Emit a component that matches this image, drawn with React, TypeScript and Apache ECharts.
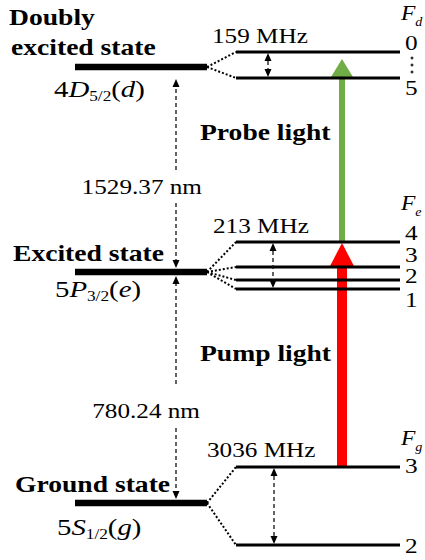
import React, { useEffect, useRef } from "react";
import * as echarts from "echarts";

const W = 425;
const H = 560;
const FAMILY = "Liberation Serif";

// ---- data ----
const mainLevelY = [67, 272, 503]; // d, e, g
const mainLevelX = [75, 207];
const hfX = [236, 400];
const hfDF = ["0", "5"];
const hfDY = [52, 78];
const hfDLabelY = [43, 88];
const hfEF = ["4", "3", "2", "1"];
const hfEY = [242, 267, 280, 289];
const hfELabelY = [233, 255, 276, 300];
const hfGF = ["3", "2"];
const hfGY = [467, 545];
const hfGLabelY = [466, 546];

const stateTitles = ["Doubly", "excited state", "Excited state", "Ground state"];
const lightLabels = ["Probe light", "Pump light"];
const splitLabels = ["159 MHz", "213 MHz", "3036 MHz"];
const wavelengthLabels = ["1529.37 nm", "780.24 nm"];
const termLabels = [
  ["4", "D", "5/2", "d"],
  ["5", "P", "3/2", "e"],
  ["5", "S", "1/2", "g"],
];
const fLabels = ["d", "e", "g"];

// [x, yTail, yTip]
const beamArrows = [
  [342, 242, 59], // probe
  [342, 467, 243], // pump
];
const beamStyles = [
  { color: "#70AD47", shaft: 6, headW: 22, headL: 18 },
  { color: "#FF0000", shaft: 10, headW: 26, headL: 25 },
];

// single-headed dashed arrows [x, yStart, yTip]
const wlArrows = [
  [176, 170, 79],
  [176, 203, 268],
  [176, 384, 276],
  [176, 428, 499],
];
// double-headed arrows [x, y1, y2]
const splitArrows = [
  [268, 53, 77],
  [273, 243, 288],
  [274, 468, 544],
];
const dots = [
  [412, 58],
  [412, 65],
  [412, 72],
];

// ---- text helpers ----
const canvas = document.createElement("canvas");
const ctx = canvas.getContext("2d")!;
function tw(t: string, size: number, weight: string, style: string) {
  ctx.font = `${style} ${weight} ${size}px ${FAMILY}`;
  return ctx.measureText(t).width;
}

type Seg = { t: string; it?: boolean; sub?: boolean };
type TextItem = {
  x: number;
  y: number;
  segs: Seg[];
  size: number;
  bold?: boolean;
  align?: "left" | "right";
  scaleX: number;
  subDy: number;
};

const textItems: TextItem[] = [];
const boldPos = [
  [9, 17],
  [11, 47],
  [13, 253],
  [15, 484],
];
stateTitles.forEach((t, i) =>
  textItems.push({ x: boldPos[i][0], y: boldPos[i][1], segs: [{ t }], size: 23, bold: true, scaleX: 1.2, subDy: 0 })
);
const lightPos = [
  [200, 132],
  [200, 353],
];
lightLabels.forEach((t, i) =>
  textItems.push({ x: lightPos[i][0], y: lightPos[i][1], segs: [{ t }], size: 23, bold: true, scaleX: 1.2, subDy: 0 })
);
const splitPos = [
  [212, 36],
  [213, 226],
  [207, 450],
];
splitLabels.forEach((t, i) =>
  textItems.push({ x: splitPos[i][0], y: splitPos[i][1], segs: [{ t }], size: 21, scaleX: 1.2, subDy: 0 })
);
const wlPos = [
  [202, 187],
  [200, 411],
];
wavelengthLabels.forEach((t, i) =>
  textItems.push({ x: wlPos[i][0], y: wlPos[i][1], segs: [{ t }], size: 21, align: "right", scaleX: 1.2, subDy: 0 })
);
const termPos = [
  [54, 89],
  [55, 289],
  [57, 527],
];
termLabels.forEach((p, i) =>
  textItems.push({
    x: termPos[i][0],
    y: termPos[i][1],
    segs: [{ t: p[0] }, { t: p[1], it: true }, { t: p[2], sub: true }, { t: "(" }, { t: p[3], it: true }, { t: ")" }],
    size: 24,
    scaleX: 1.2,
    subDy: 0.3,
  })
);
const fPosY = [13, 203, 438];
fLabels.forEach((s, i) =>
  textItems.push({ x: 401, y: fPosY[i], segs: [{ t: "F", it: true }, { t: s, it: true, sub: true }], size: 21, scaleX: 1.12, subDy: 0.42 })
);
const pushNums = (labels: string[], ys: number[]) =>
  labels.forEach((t, i) => textItems.push({ x: 405, y: ys[i], segs: [{ t }], size: 22, scaleX: 1.15, subDy: 0 }));
pushNums(hfDF, hfDLabelY);
pushNums(hfEF, hfELabelY);
pushNums(hfGF, hfGLabelY);

// ---- segment builders ----
const mainSegs = mainLevelY.map((y) => [mainLevelX[0], y, mainLevelX[1], y]);
const hfSegs = [...hfDY, ...hfEY, ...hfGY].map((y) => [hfX[0], y, hfX[1], y]);
const fanSegs = [
  ...hfDY.map((y) => [mainLevelX[1], mainLevelY[0], hfX[0], y]),
  ...hfEY.map((y) => [mainLevelX[1], mainLevelY[1], hfX[0], y]),
  ...hfGY.map((y) => [mainLevelX[1], mainLevelY[2], hfX[0], y]),
];

function segSeries(data: number[][], style: any) {
  return {
    type: "custom",
    coordinateSystem: "cartesian2d",
    data,
    encode: { x: [0, 2], y: [1, 3] },
    silent: true,
    renderItem: (params: any, api: any) => {
      const p0 = api.coord([api.value(0), api.value(1)]);
      const p1 = api.coord([api.value(2), api.value(3)]);
      return {
        type: "line",
        shape: { x1: p0[0], y1: p0[1], x2: p1[0], y2: p1[1] },
        style: { fill: null, ...style },
      };
    },
  };
}

function head(tip: number[], dir: number, len: number, halfW: number) {
  return [
    [tip[0], tip[1]],
    [tip[0] - halfW, tip[1] - dir * len],
    [tip[0] + halfW, tip[1] - dir * len],
  ];
}

function dashedArrowSeries(data: number[][], both: boolean) {
  return {
    type: "custom",
    coordinateSystem: "cartesian2d",
    data,
    encode: { x: 0, y: [1, 2] },
    silent: true,
    renderItem: (params: any, api: any) => {
      const a = api.coord([api.value(0), api.value(1)]);
      const b = api.coord([api.value(0), api.value(2)]);
      const dir = b[1] > a[1] ? 1 : -1;
      const L = 8;
      const hw = 3.5;
      const children: any[] = [];
      const y1 = both ? a[1] + dir * L : a[1];
      const y2 = b[1] - dir * L;
      children.push({
        type: "line",
        shape: { x1: a[0], y1, x2: b[0], y2 },
        style: { stroke: "#111", lineWidth: 1.3, lineDash: [4, 3], fill: null },
      });
      children.push({ type: "polygon", shape: { points: head(b, dir, L, hw) }, style: { fill: "#000" } });
      if (both) children.push({ type: "polygon", shape: { points: head(a, -dir, L, hw) }, style: { fill: "#000" } });
      return { type: "group", children };
    },
  };
}

const App: React.FC = () => {
  const ref = useRef<HTMLDivElement>(null);
  useEffect(() => {
    document.body.style.margin = "0";
    const chart = echarts.init(ref.current!, undefined, { renderer: "svg" });
    chart.setOption({
      animation: false,
      backgroundColor: "#fff",
      textStyle: { fontFamily: FAMILY },
      grid: { left: 0, right: 0, top: 0, bottom: 0, outerBoundsMode: "none" },
      xAxis: { type: "value", min: 0, max: W, show: false },
      yAxis: { type: "value", min: 0, max: H, inverse: true, show: false },
      series: [
        segSeries(mainSegs, { stroke: "#000", lineWidth: 6.5 }),
        segSeries(fanSegs, { stroke: "#000", lineWidth: 2, lineDash: [2, 2] }),
        {
          type: "custom",
          coordinateSystem: "cartesian2d",
          data: beamArrows,
          encode: { x: 0, y: [1, 2] },
          silent: true,
          renderItem: (params: any, api: any) => {
            const s = beamStyles[params.dataIndex];
            const tail = api.coord([api.value(0), api.value(1)]);
            const tip = api.coord([api.value(0), api.value(2)]);
            const baseY = tip[1] + s.headL;
            return {
              type: "group",
              children: [
                {
                  type: "rect",
                  shape: { x: tail[0] - s.shaft / 2, y: baseY - 1, width: s.shaft, height: tail[1] - baseY + 1 },
                  style: { fill: s.color },
                },
                { type: "polygon", shape: { points: head(tip, -1, s.headL, s.headW / 2) }, style: { fill: s.color } },
              ],
            };
          },
        },
        segSeries(hfSegs, { stroke: "#000", lineWidth: 3 }),
        dashedArrowSeries(wlArrows, false),
        dashedArrowSeries(splitArrows, true),
        {
          type: "scatter",
          data: dots,
          symbol: "circle",
          symbolSize: 3,
          itemStyle: { color: "#000" },
          silent: true,
        },
        {
          type: "custom",
          coordinateSystem: "cartesian2d",
          data: textItems.map((t) => [t.x, t.y]),
          encode: { x: 0, y: 1 },
          silent: true,
          renderItem: (params: any, api: any) => {
            const item = textItems[params.dataIndex];
            const p = api.coord([api.value(0), api.value(1)]);
            const weight = item.bold ? "bold" : "normal";
            let cx = 0;
            const children: any[] = [];
            for (const s of item.segs) {
              const size = s.sub ? item.size * 0.6 : item.size;
              const fstyle = s.it ? "italic" : "normal";
              const w = tw(s.t, size, weight, fstyle);
              children.push({
                type: "text",
                x: cx,
                y: s.sub ? item.size * item.subDy : 0,
                style: {
                  text: s.t,
                  fill: "#000",
                  fontSize: size,
                  fontFamily: FAMILY,
                  fontWeight: weight,
                  fontStyle: fstyle,
                  align: "left",
                  verticalAlign: "middle",
                },
              });
              cx += w;
            }
            const ox = item.align === "right" ? -cx * item.scaleX : 0;
            return { type: "group", x: p[0] + ox, y: p[1], scaleX: item.scaleX, children };
          },
        },
      ],
    });
    return () => chart.dispose();
  }, []);
  return <div ref={ref} style={{ position: "absolute", left: 0, top: 0, width: W, height: H, background: "#fff" }} />;
};

export default App;
